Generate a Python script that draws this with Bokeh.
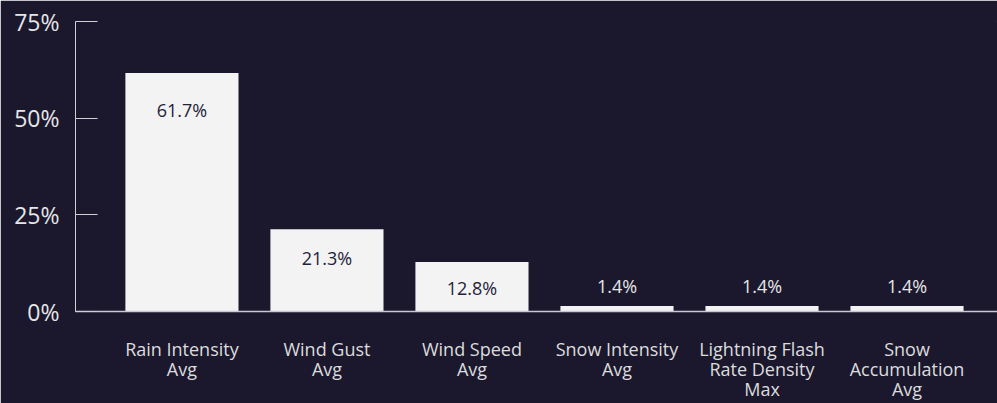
import numpy as np
from bokeh.plotting import figure
from bokeh.models import ColumnDataSource, FixedTicker, Range1d
from bokeh.core.properties import value
from bokeh.embed import file_html
from bokeh.resources import INLINE

categories = ["Rain Intensity\nAvg", "Wind Gust\nAvg", "Wind Speed\nAvg",
              "Snow Intensity\nAvg", "Lightning Flash\nRate Density\nMax",
              "Snow\nAccumulation\nAvg"]
shares = [61.7, 21.3, 12.8, 1.4, 1.4, 1.4]
y_ticks = [0, 25, 50, 75]
y_tick_labels = ["0%", "25%", "50%", "75%"]

BG = "#1b182e"
BAR = "#f3f3f3"
FONT = "Open Sans"

xs = np.arange(len(categories))
vals = np.array(shares)
label_text = [f"{v:.1f}%" for v in vals]
inside = vals > 5
y_off = np.where(inside, 8 + 16 * np.log10(np.maximum(vals, 1)), -20)
src = ColumnDataSource(dict(x=xs, top=vals, label=label_text, yoff=y_off,
                            color=np.where(inside, "#23223a", "#e6e6e6")))

p = figure(width=997, height=403, output_backend="svg", toolbar_location=None,
           title=None,
           x_range=Range1d(-0.734, 5.624), y_range=Range1d(0, 75),
           min_border_left=75, min_border_right=0, min_border_top=21,
           min_border_bottom=90)
p.background_fill_color = BG
p.border_fill_color = BG
p.outline_line_color = BG
p.outline_line_width = 1
p.xgrid.grid_line_color = None
p.ygrid.grid_line_color = None

p.vbar(x="x", top="top", width=0.78, bottom=0, source=src, fill_color=BAR,
       line_color=None)
p.text(x="x", y="top", text="label", y_offset="yoff", source=src,
       text_align="center", text_baseline="middle", text_color="color",
       text_font=value(FONT), text_font_size="18px")

# y axis
ya = p.yaxis[0]
ya.ticker = FixedTicker(ticks=y_ticks)
ya.major_label_overrides = {t: l for t, l in zip(y_ticks, y_tick_labels)}
ya.major_tick_in = 22
ya.major_tick_out = 0
ya.minor_tick_line_color = None
ya.axis_line_color = "#d0d0d4"
ya.major_tick_line_color = "#d0d0d4"
ya.major_label_text_color = "#e6e6e6"
ya.major_label_text_font = FONT
ya.major_label_text_font_size = "23px"
ya.major_label_standoff = 16

# x axis
xa = p.xaxis[0]
xa.ticker = FixedTicker(ticks=list(xs))
xa.major_label_overrides = {int(i): c for i, c in enumerate(categories)}
xa.major_tick_line_color = None
xa.minor_tick_line_color = None
xa.axis_line_color = "#c8c8d0"
xa.axis_line_width = 1.5
xa.major_label_text_color = "#dcdcdc"
xa.major_label_text_font = FONT
xa.major_label_text_font_size = "18px"
xa.major_label_text_line_height = 0.84
xa.major_label_standoff = 19

open("out.html", "w").write(file_html(p, INLINE))
